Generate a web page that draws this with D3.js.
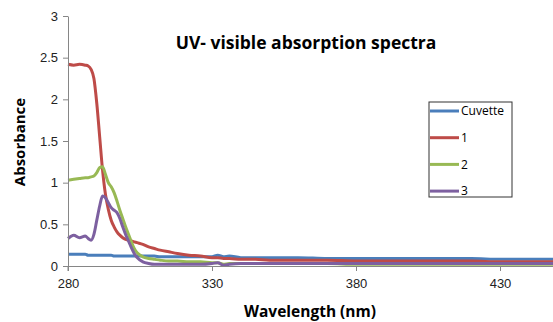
<!DOCTYPE html>
<html>
<head>
<meta charset="utf-8">
<script src="https://cdn.jsdelivr.net/npm/d3@7"></script>
<style>
  body { margin: 0; background: #fff; }
  svg { font-family: "Open Sans", "Liberation Sans", sans-serif; }
  .axis path, .axis line { stroke: #868686; }
  .axis text { font-size: 13px; fill: #222; }
</style>
</head>
<body>
<script>
// values
var wavelength = [280,282,284,286,287,288,289,290,291,292,293,294,295,296,297,298,299,300,301,302,303,304,306,308,310,312,315,318,322,326,330,332,334,336,340,345,350,360,370,380,390,400,410,420,430,440,450];
var cuvette = [0.14,0.14,0.14,0.14,0.13,0.13,0.13,0.13,0.13,0.13,0.13,0.13,0.13,0.12,0.12,0.12,0.12,0.12,0.12,0.12,0.12,0.12,0.12,0.12,0.12,0.11,0.11,0.11,0.11,0.11,0.11,0.13,0.11,0.12,0.1,0.1,0.1,0.1,0.09,0.09,0.09,0.09,0.09,0.09,0.08,0.08,0.08];
var sample1 = [2.42,2.41,2.42,2.41,2.4,2.36,2.25,1.95,1.55,1.15,0.86,0.68,0.55,0.47,0.41,0.37,0.34,0.32,0.31,0.3,0.29,0.28,0.26,0.23,0.21,0.19,0.17,0.15,0.13,0.12,0.1,0.1,0.09,0.09,0.08,0.08,0.07,0.07,0.07,0.06,0.06,0.06,0.06,0.06,0.05,0.05,0.05];
var sample2 = [1.03,1.04,1.05,1.06,1.06,1.07,1.08,1.12,1.18,1.19,1.1,1.0,0.95,0.88,0.78,0.67,0.57,0.47,0.38,0.29,0.21,0.16,0.11,0.09,0.08,0.07,0.06,0.06,0.05,0.05,0.04,0.04,0.02,0.03,0.03,0.03,0.03,0.03,0.03,0.02,0.02,0.02,0.02,0.02,0.02,0.02,0.02];
var sample3 = [0.33,0.37,0.34,0.36,0.33,0.31,0.38,0.55,0.72,0.84,0.82,0.76,0.7,0.67,0.64,0.57,0.47,0.38,0.3,0.22,0.15,0.1,0.05,0.03,0.02,0.02,0.02,0.02,0.02,0.02,0.03,0.04,0.01,0.02,0.03,0.03,0.03,0.03,0.03,0.03,0.03,0.03,0.03,0.03,0.03,0.03,0.03];
var seriesNames = ["Cuvette","1","2","3"];
var seriesColors = ["#4a7ebb","#be4b48","#98b954","#7d60a0"];
var xTicks = [280,330,380,430];
var yTicks = [0,0.5,1,1.5,2,2.5,3];

var allSeries = [cuvette, sample1, sample2, sample3];

var svgW = 553, svgH = 322;
var graphSize = {top:16, left:68},
  height = 250;

var x = d3.scaleLinear().domain([280,450]).range([graphSize.left, graphSize.left + 170*2.88]);
var y = d3.scaleLinear().domain([0,3]).range([graphSize.top + height, graphSize.top]);

var svg = d3.select("body").append("svg")
  .attr("width", svgW)
  .attr("height", svgH);

//title
svg.append("text")
  .attr("x", 306).attr("y", 49)
  .style("text-anchor", "middle")
  .style("font-weight", "bold")
  .style("font-size", "17.5px")
  .text("UV- visible absorption spectra");

//lines
var line = d3.line()
  .x(function(d, i){ return x(wavelength[i]); })
  .y(function(d){ return y(d); })
  .curve(d3.curveMonotoneX);

svg.selectAll(".series")
  .data(allSeries)
  .enter().append("path")
  .attr("class", "series")
  .attr("fill", "none")
  .attr("stroke", function(d, i){ return seriesColors[i]; })
  .attr("stroke-width", 3)
  .attr("stroke-linejoin", "round")
  .attr("d", line);

//x axis
svg.append("g")
  .attr("class", "axis")
  .attr("transform", "translate(0," + y(0) + ")")
  .call(d3.axisBottom(x).tickValues(xTicks).tickSize(5).tickPadding(8).tickSizeOuter(0));

//y axis
svg.append("g")
  .attr("class", "axis")
  .attr("transform", "translate(" + graphSize.left + ",0)")
  .call(d3.axisLeft(y).tickValues(yTicks).tickFormat(function(d){ return String(d); })
    .tickSize(5).tickPadding(5).tickSizeOuter(0));

// axis line extends down past the x axis
svg.append("line")
  .attr("x1", graphSize.left).attr("x2", graphSize.left)
  .attr("y1", y(0)).attr("y2", y(0) + 5)
  .attr("stroke", "#868686");

//axis labels
svg.append("text")
  .attr("transform", "translate(" + 310 + "," + 317 + ")")
  .style("text-anchor", "middle")
  .style("font-weight", "bold")
  .style("font-size", "15.5px")
  .text("Wavelength (nm)");

svg.append("text")
  .attr("transform", "translate(25," + 142 + ") rotate(-90)")
  .style("text-anchor", "middle")
  .style("font-weight", "bold")
  .style("font-size", "15px")
  .text("Absorbance");

//legend
var legend = svg.append("g");
legend.append("rect")
  .attr("x", 429).attr("y", 102)
  .attr("width", 83).attr("height", 95)
  .attr("fill", "#fff")
  .attr("stroke", "#333");

var entries = legend.selectAll(".entry")
  .data(seriesNames)
  .enter().append("g")
  .attr("transform", function(d, i){ return "translate(430," + (111 + i*26.7) + ")"; });
entries.append("line")
  .attr("x1", 0).attr("x2", 29)
  .attr("stroke", function(d, i){ return seriesColors[i]; })
  .attr("stroke-width", 3);
entries.append("text")
  .attr("x", 31).attr("dy", "0.35em")
  .style("font-size", "12px")
  .text(function(d){ return d; });
</script>
</body>
</html>
